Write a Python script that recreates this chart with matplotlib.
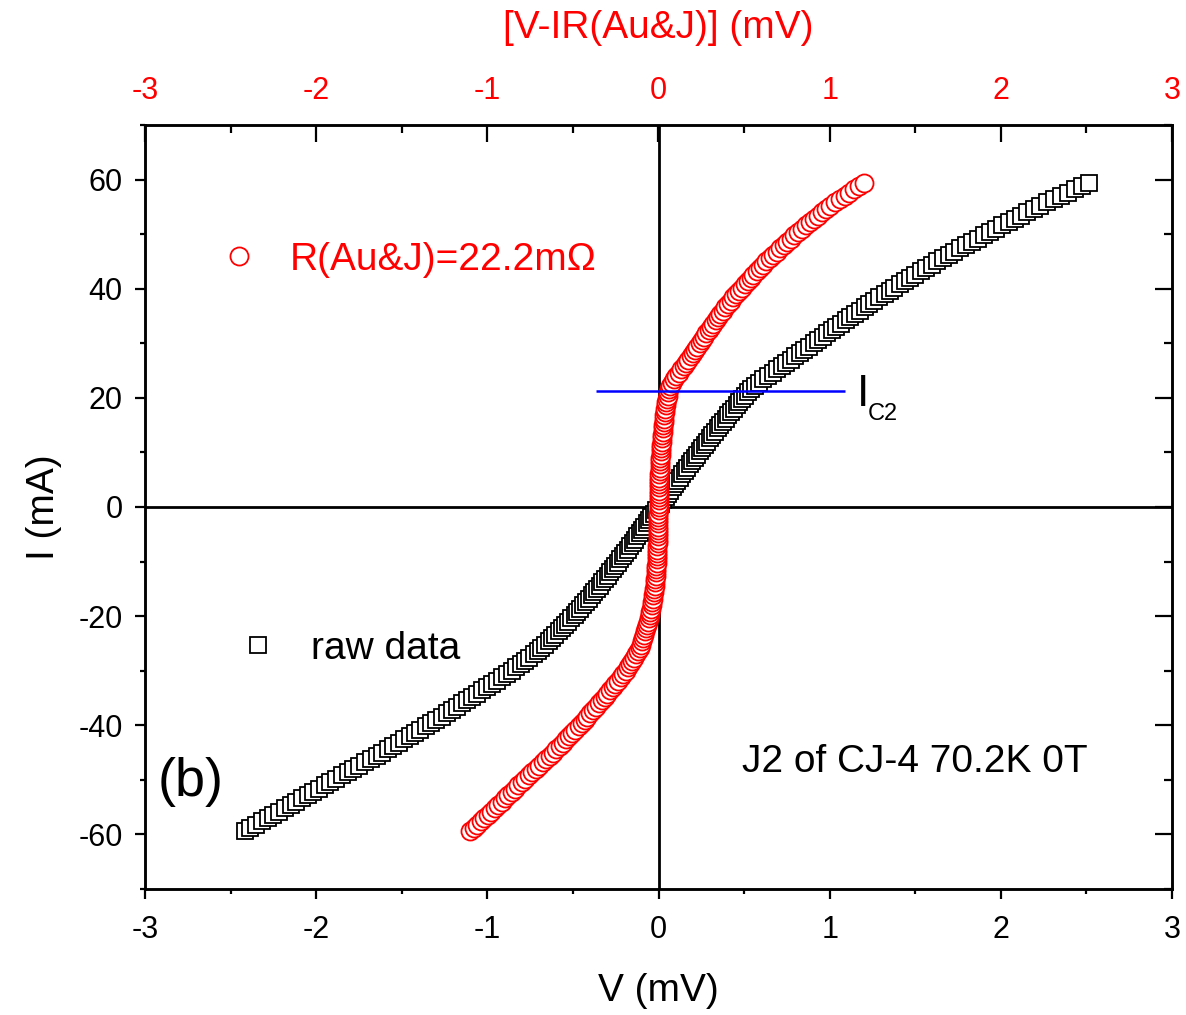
import matplotlib
matplotlib.use("Agg")
import matplotlib.pyplot as plt
from matplotlib.ticker import MultipleLocator
from matplotlib.lines import Line2D
import numpy as np

plt.rcParams['font.family'] = ['Liberation Sans', 'DejaVu Sans']

# Bias current sweep (mA)
current_ma = [
    -59.4, -58.8, -58.2, -57.6, -57.0, -56.4, -55.8, -55.2, -54.6, -54.0,
    -53.4, -52.8, -52.2, -51.6, -51.0, -50.4, -49.8, -49.2, -48.6, -48.0,
    -47.4, -46.8, -46.2, -45.6, -45.0, -44.4, -43.8, -43.2, -42.6, -42.0,
    -41.4, -40.8, -40.2, -39.6, -39.0, -38.4, -37.8, -37.2, -36.6, -36.0,
    -35.4, -34.8, -34.2, -33.6, -33.0, -32.4, -31.8, -31.2, -30.6, -30.0,
    -29.4, -28.8, -28.2, -27.6, -27.0, -26.4, -25.8, -25.2, -24.6, -24.0,
    -23.4, -22.8, -22.2, -21.6, -21.0, -20.4, -19.8, -19.2, -18.6, -18.0,
    -17.4, -16.8, -16.2, -15.6, -15.0, -14.4, -13.8, -13.2, -12.6, -12.0,
    -11.4, -10.8, -10.2, -9.6, -9.0, -8.4, -7.8, -7.2, -6.6, -6.0,
    -5.4, -4.8, -4.2, -3.6, -3.0, -2.4, -1.8, -1.2, -0.6, 0.0,
    0.6, 1.2, 1.8, 2.4, 3.0, 3.6, 4.2, 4.8, 5.4, 6.0,
    6.6, 7.2, 7.8, 8.4, 9.0, 9.6, 10.2, 10.8, 11.4, 12.0,
    12.6, 13.2, 13.8, 14.4, 15.0, 15.6, 16.2, 16.8, 17.4, 18.0,
    18.6, 19.2, 19.8, 20.4, 21.0, 21.6, 22.2, 22.8, 23.4, 24.0,
    24.6, 25.2, 25.8, 26.4, 27.0, 27.6, 28.2, 28.8, 29.4, 30.0,
    30.6, 31.2, 31.8, 32.4, 33.0, 33.6, 34.2, 34.8, 35.4, 36.0,
    36.6, 37.2, 37.8, 38.4, 39.0, 39.6, 40.2, 40.8, 41.4, 42.0,
    42.6, 43.2, 43.8, 44.4, 45.0, 45.6, 46.2, 46.8, 47.4, 48.0,
    48.6, 49.2, 49.8, 50.4, 51.0, 51.6, 52.2, 52.8, 53.4, 54.0,
    54.6, 55.2, 55.8, 56.4, 57.0, 57.6, 58.2, 58.8, 59.4,
]

# Junction voltage after subtracting the Au/junction series drop, V - IR (mV)
junction_mv = [
    -1.100, -1.080, -1.059, -1.039, -1.018, -0.998, -0.977, -0.957, -0.937, -0.917,
    -0.897, -0.877, -0.858, -0.838, -0.818, -0.798, -0.778, -0.758, -0.737, -0.717,
    -0.697, -0.676, -0.656, -0.635, -0.615, -0.596, -0.578, -0.559, -0.541, -0.522,
    -0.503, -0.485, -0.466, -0.449, -0.432, -0.415, -0.398, -0.382, -0.365, -0.348,
    -0.331, -0.315, -0.299, -0.284, -0.268, -0.252, -0.237, -0.221, -0.206, -0.190,
    -0.177, -0.164, -0.152, -0.141, -0.130, -0.120, -0.111, -0.103, -0.096, -0.089,
    -0.083, -0.077, -0.071, -0.066, -0.061, -0.056, -0.051, -0.047, -0.043, -0.040,
    -0.036, -0.033, -0.030, -0.028, -0.025, -0.023, -0.021, -0.019, -0.017, -0.015,
    -0.014, -0.012, -0.011, -0.010, -0.009, -0.008, -0.007, -0.006, -0.005, -0.004,
    -0.004, -0.003, -0.003, -0.002, -0.002, -0.001, -0.001, -0.001, 0.000, 0.000,
    0.000, 0.000, 0.001, 0.001, 0.001, 0.002, 0.002, 0.003, 0.004, 0.005,
    0.006, 0.007, 0.008, 0.010, 0.011, 0.013, 0.014, 0.016, 0.017, 0.019,
    0.020, 0.022, 0.024, 0.026, 0.028, 0.030, 0.032, 0.035, 0.037, 0.040,
    0.043, 0.046, 0.049, 0.053, 0.058, 0.063, 0.070, 0.080, 0.092, 0.105,
    0.120, 0.134, 0.148, 0.161, 0.174, 0.187, 0.200, 0.213, 0.227, 0.240,
    0.253, 0.267, 0.280, 0.294, 0.307, 0.320, 0.334, 0.347, 0.361, 0.376,
    0.391, 0.406, 0.422, 0.438, 0.455, 0.471, 0.486, 0.503, 0.520, 0.538,
    0.555, 0.573, 0.591, 0.610, 0.630, 0.650, 0.670, 0.690, 0.711, 0.731,
    0.752, 0.773, 0.794, 0.816, 0.839, 0.862, 0.886, 0.909, 0.933, 0.956,
    0.979, 1.004, 1.031, 1.059, 1.087, 1.114, 1.142, 1.170, 1.198,
]

# Series resistance of Au leads and junction (mOhm)
r_au_j_mohm = 22.2

# Critical current marker
ic2_ma = 21.2
ic2_span_mv = [-0.365, 1.09]

x_ticks = [-3, -2, -1, 0, 1, 2, 3]
y_ticks = [-60, -40, -20, 0, 20, 40, 60]

I = np.array(current_ma)
v_junction = np.array(junction_mv)
v_raw = v_junction + r_au_j_mohm * 1e-3 * I   # mA * Ohm -> mV

W, H = 1186, 1015
fig = plt.figure(figsize=(W / 100, H / 100), dpi=100)
ax = fig.add_axes([145 / W, 1 - 889 / H, (1172 - 145) / W, (889 - 125) / H])

ax.set_xlim(-3, 3)
ax.set_ylim(-70, 70)

SQ_MS, CI_MS, MEW = 11, 13, 1.3

# Zero reference lines
ax.axhline(0, color='black', lw=2.0, zorder=1)
ax.axvline(0, color='black', lw=2.0, zorder=1)

ax.plot(v_raw, I, ls='none', marker='s', ms=SQ_MS, mfc='white', mec='black',
        mew=MEW, zorder=2)
ax.plot(v_junction, I, ls='none', marker='o', ms=CI_MS, mfc='white', mec='red',
        mew=MEW, zorder=3)

ax.hlines(ic2_ma, ic2_span_mv[0], ic2_span_mv[1], color='blue', lw=1.8, zorder=4)

def px2data(px, py):
    return (px - 658.5) / 171.17, (507 - py) / 5.458

tx, ty = px2data(857, 406)
ax.text(tx, ty, 'I', fontsize=32, va='baseline', ha='left')
tx, ty = px2data(868, 420)
ax.text(tx, ty, 'C2', fontsize=17, va='baseline', ha='left')
tx, ty = px2data(158, 782)
ax.text(tx, ty, '(b)', fontsize=39, va='center', ha='left')
tx, ty = px2data(742, 762)
ax.text(tx, ty, 'J2 of CJ-4 70.2K 0T', fontsize=28, va='center', ha='left')

# Axes styling
for s in ax.spines.values():
    s.set_linewidth(1.8)
ax.set_xticks(x_ticks)
ax.set_yticks(y_ticks)
ax.xaxis.set_minor_locator(MultipleLocator(0.5))
ax.yaxis.set_minor_locator(MultipleLocator(10))
ax.tick_params(which='major', direction='out', length=7, width=1.6,
               labelsize=22, pad=9)
ax.tick_params(axis='x', which='major', pad=12)
ax.tick_params(which='minor', direction='out', length=3.5, width=1.6)
ax.set_xticklabels([str(t) for t in x_ticks])
ax.set_yticklabels([str(t) for t in y_ticks])
ax.set_xlabel('V (mV)', fontsize=28, labelpad=20)
ax.set_ylabel('I (mA)', fontsize=28, labelpad=12)

# Right side ticks point inward
ayr = ax.secondary_yaxis('right')
ayr.set_yticks(y_ticks)
ayr.yaxis.set_minor_locator(MultipleLocator(10))
ayr.tick_params(which='major', direction='in', length=12, width=1.6, labelright=False)
ayr.tick_params(which='minor', direction='in', length=6, width=1.6)

# Top axis: corrected voltage scale
ax2 = ax.twiny()
ax2.set_xlim(-3, 3)
ax2.set_xticks(x_ticks)
ax2.set_xticklabels([str(t) for t in x_ticks])
ax2.xaxis.set_minor_locator(MultipleLocator(0.5))
ax2.tick_params(which='major', direction='in', length=12, width=1.6,
                labelsize=22, labelcolor='red', pad=14)
ax2.tick_params(which='minor', direction='in', length=6, width=1.6)
ax2.set_xlabel('[V-IR(Au&J)] (mV)', fontsize=28, color='red', labelpad=27)
for s in ax2.spines.values():
    s.set_linewidth(1.8)

# Legends
red_handle = Line2D([], [], ls='none', marker='o', ms=CI_MS, mfc='white', mec='red', mew=MEW)
blk_handle = Line2D([], [], ls='none', marker='s', ms=SQ_MS, mfc='white', mec='black', mew=MEW)

fig.legend([red_handle], ['R(Au&J)=22.2m\u03a9'], loc='center left',
           bbox_to_anchor=(220 / W, 1 - 260 / H), frameon=False,
           fontsize=28, handlelength=1.0, handletextpad=0.8,
           borderpad=0, borderaxespad=0, labelcolor='red')
fig.legend([blk_handle], ['raw data'], loc='center left',
           bbox_to_anchor=(239 / W, 1 - 649 / H), frameon=False,
           fontsize=28, handlelength=1.0, handletextpad=0.85,
           borderpad=0, borderaxespad=0)

fig.savefig('out.png', dpi=100)
